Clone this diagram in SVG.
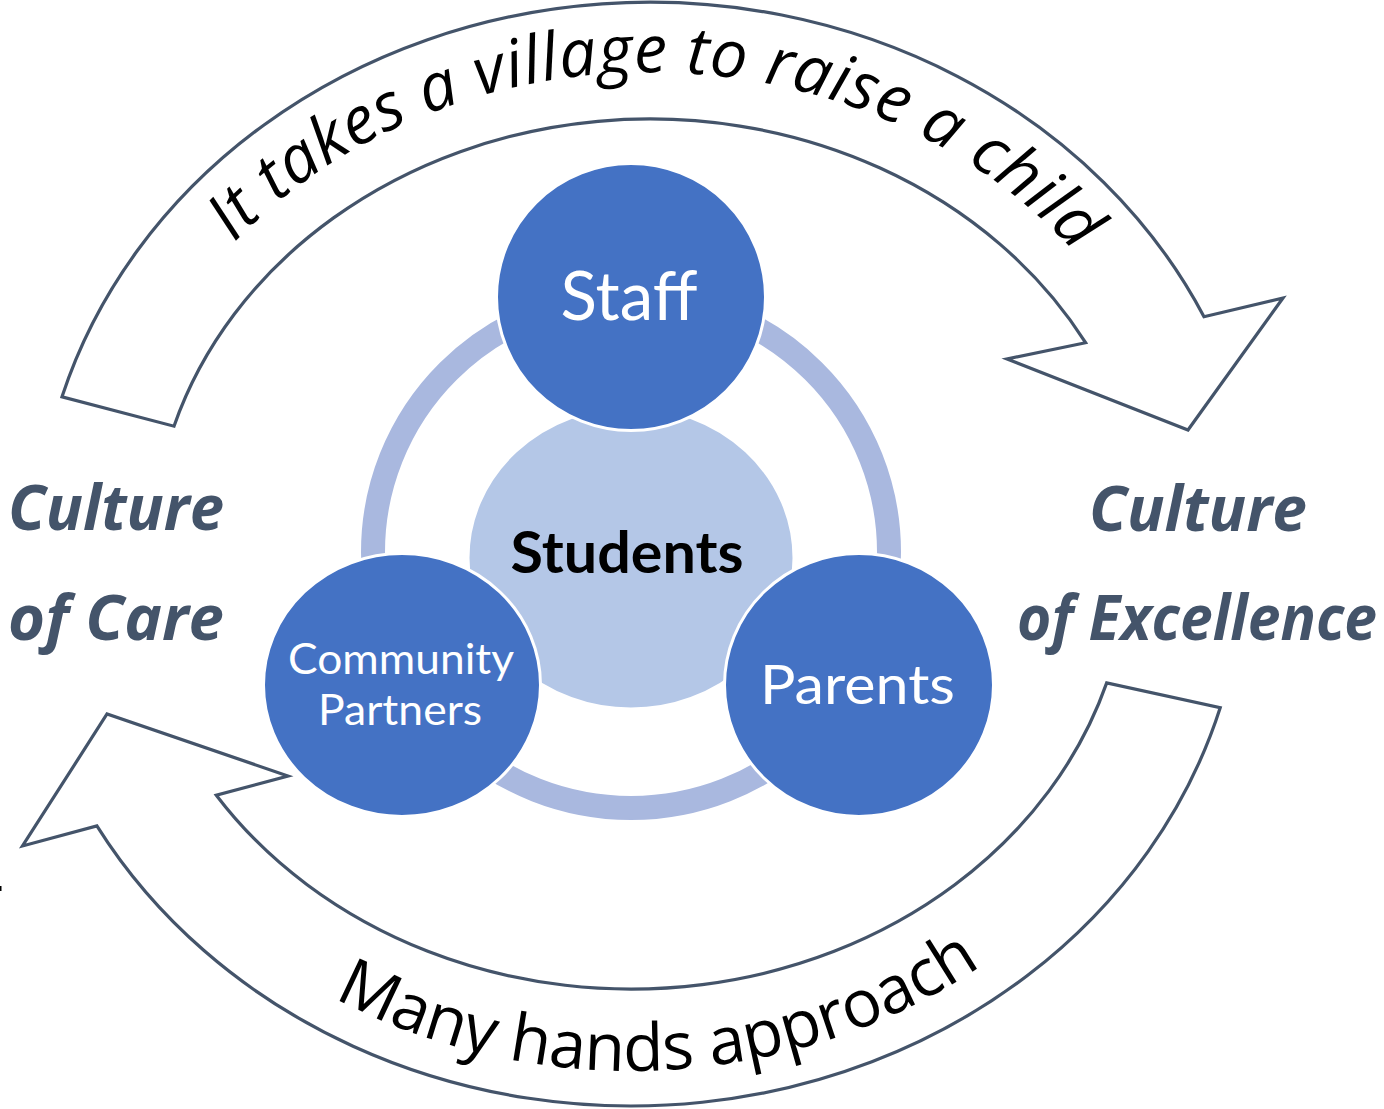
<svg xmlns="http://www.w3.org/2000/svg" xmlns:xlink="http://www.w3.org/1999/xlink" width="1384" height="1109" viewBox="0 0 1384 1109">
<style>
.arrow{fill:#ffffff;stroke:#44546A;stroke-width:3.2;stroke-linejoin:miter}
.ring{fill:none;stroke:#A9B8DF;stroke-width:24}
.node{fill:#4472C4;stroke:#ffffff;stroke-width:3}
.core{fill:#B4C7E7;stroke:#ffffff;stroke-width:3}
.lbl{font-family:Lato,"Open Sans","Liberation Sans",sans-serif;fill:#ffffff;text-anchor:middle}
.arctxt{font-family:"Open Sans","Liberation Sans",sans-serif;fill:#000000}
.culture{font-family:"Open Sans","Liberation Sans",sans-serif;font-weight:bold;font-style:italic;fill:#44546A;text-anchor:middle;font-size:63px}
</style>
<defs>
<path id="topPath" d="M 114.3 468.7 A 544 480 0 0 1 1185.7 468.7"/>
<path id="botPath" d="M 61.8 645.4 A 578 515 0 0 0 1200.2 645.4"/>
</defs>
<rect width="1384" height="1109" fill="#ffffff"/>
<g id="connectors">
<g id="arrow-top">
<path class="arrow" d="M 62 396.8 A 613 550 0 0 1 1204 316.7 L 1283 298 L 1188 430 L 1007 359 L 1085.6 342.7 A 497.5 433 0 0 0 174 426.2 Z"/>
<text class="arctxt" font-size="66" font-style="italic"><textPath xlink:href="#topPath" href="#topPath" startOffset="259" textLength="937" lengthAdjust="spacing">It takes a village to raise a child</textPath></text>
</g>
<g id="arrow-bottom">
<path class="arrow" d="M 1220.2 707.8 A 613 550 0 0 1 96.9 825.9 L 22.5 846 L 107 714 L 288 776 L 216.3 795.2 A 497.5 433 0 0 0 1106.7 682.9 Z"/>
<text class="arctxt" font-size="66"><textPath xlink:href="#botPath" href="#botPath" startOffset="460" textLength="680" lengthAdjust="spacing">Many hands approach</textPath></text>
</g>
<ellipse id="ring" class="ring" cx="631" cy="552" rx="258" ry="256"/>
</g>
<g id="node-students">
<ellipse class="core" cx="631" cy="558" rx="163" ry="151"/>
<text x="627" y="573" font-family="Lato,'Open Sans','Liberation Sans',sans-serif" font-weight="bold" font-size="57" fill="#000000" text-anchor="middle" textLength="233" lengthAdjust="spacingAndGlyphs">Students</text>
</g>
<g id="node-staff">
<ellipse class="node" cx="631" cy="297" rx="134.5" ry="133.5"/>
<text class="lbl" x="629" y="320" font-size="67" textLength="137" lengthAdjust="spacingAndGlyphs">Staff</text>
</g>
<g id="node-community">
<ellipse class="node" cx="402" cy="685" rx="138.5" ry="131.5"/>
<text class="lbl" x="401" y="674" font-size="43" textLength="226" lengthAdjust="spacingAndGlyphs">Community</text>
<text class="lbl" x="400" y="725" font-size="43" textLength="164" lengthAdjust="spacingAndGlyphs">Partners</text>
</g>
<g id="node-parents">
<ellipse class="node" cx="859" cy="685" rx="134.5" ry="131.5"/>
<text class="lbl" x="857.5" y="704" font-size="54" textLength="195" lengthAdjust="spacingAndGlyphs">Parents</text>
</g>
<g id="label-care">
<text class="culture" x="116" y="530" textLength="216" lengthAdjust="spacingAndGlyphs">Culture</text>
<text class="culture" x="116" y="640" textLength="216" lengthAdjust="spacingAndGlyphs">of Care</text>
</g>
<g id="label-excellence">
<text class="culture" x="1198" y="531" textLength="218" lengthAdjust="spacingAndGlyphs">Culture</text>
<text class="culture" x="1197" y="640" textLength="360" lengthAdjust="spacingAndGlyphs">of Excellence</text>
</g>
<rect x="0" y="886" width="1.5" height="5" fill="#000000"/>
</svg>
